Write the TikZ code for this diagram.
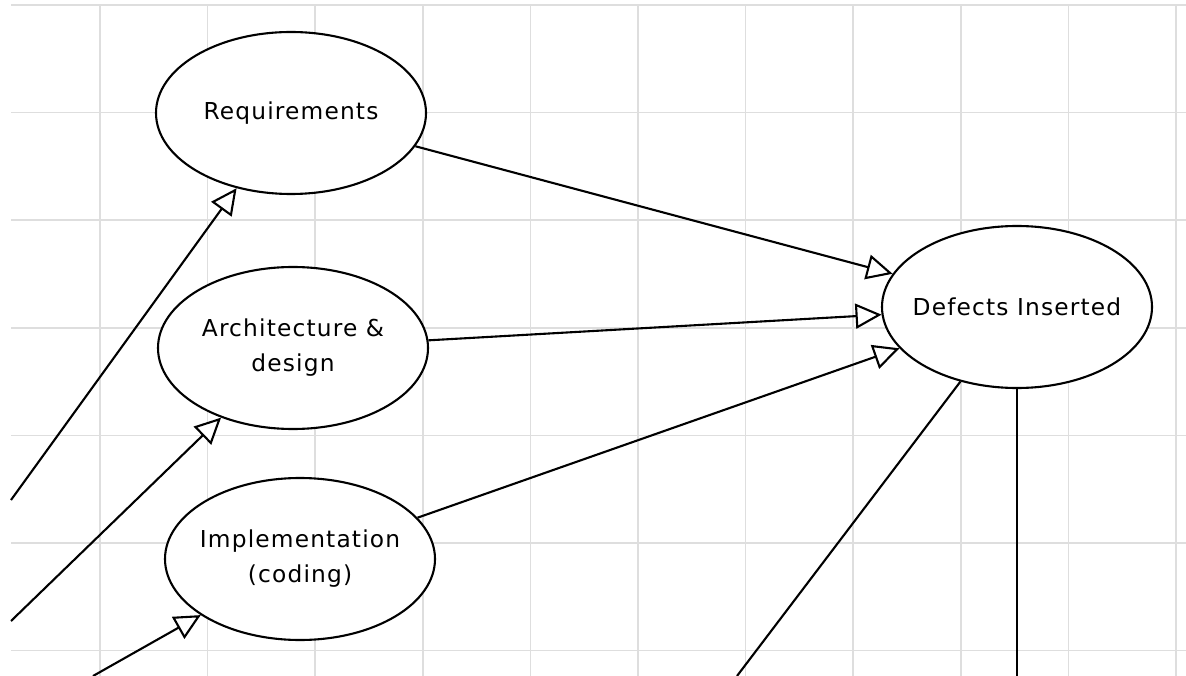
\documentclass[tikz,border=0pt]{standalone}
\usepackage{fontspec}
\setmainfont{DejaVu Sans}[LetterSpace=5]
\usetikzlibrary{arrows.meta,shapes.geometric}
\begin{document}
\begin{tikzpicture}[x=1pt,y=-1pt,
  gridline/.style={draw=black!13, line width=1.6pt},
  phase/.style={ellipse, draw=black, line width=2.1pt, fill=white,
    minimum width=270pt, minimum height=162pt, inner sep=0pt},
  caption/.style={align=center, font=\fontsize{23.3}{35}\selectfont},
  conn/.style={line width=2.1pt,
    -{Triangle[length=26pt,width=25pt,fill=white,line join=miter]}},
  link/.style={line width=2.1pt}]

% canvas
\fill[white] (0,0) rectangle (1186,676);
\useasboundingbox (0,0) rectangle (1186,676);

% background grid
\foreach \i in {0,...,10}
  \draw[gridline] ({100+107.6*\i},5) -- ({100+107.6*\i},676);
\foreach \j in {0,...,6}
  \draw[gridline] (11,{5+107.6*\j}) -- (1186,{5+107.6*\j});

% development phases and the defect pool (fixed-size ellipses, text set on top)
\node[phase, label={[caption]center:Requirements}] (req) at (291,113) {};
\node[phase, label={[caption]center:Architecture \&\\design}] (arch) at (293,348) {};
\node[phase, label={[caption]center:Implementation\\(coding)}] (impl) at (300,559) {};
\node[phase, label={[caption]center:Defects Inserted}] (defects) at (1017,307) {};

% loose ends running off the sheet
\coordinate (reqsrc)  at (11,500);
\coordinate (archsrc) at (11,621);
\coordinate (implsrc) at (93,676);
\coordinate (outA)    at (737,676);
\coordinate (outB)    at (1017,676);

% connectors
\draw[conn] (reqsrc)  -- (req);
\draw[conn] (archsrc) -- (arch);
\draw[conn] (implsrc) -- (impl);
\draw[conn] (req)  -- (defects);
\draw[conn] (arch) -- (defects);
\draw[conn] (impl) -- (defects);
\draw[link] (defects) -- (outA);
\draw[link] (defects.south) -- (outB);
\end{tikzpicture}
\end{document}
